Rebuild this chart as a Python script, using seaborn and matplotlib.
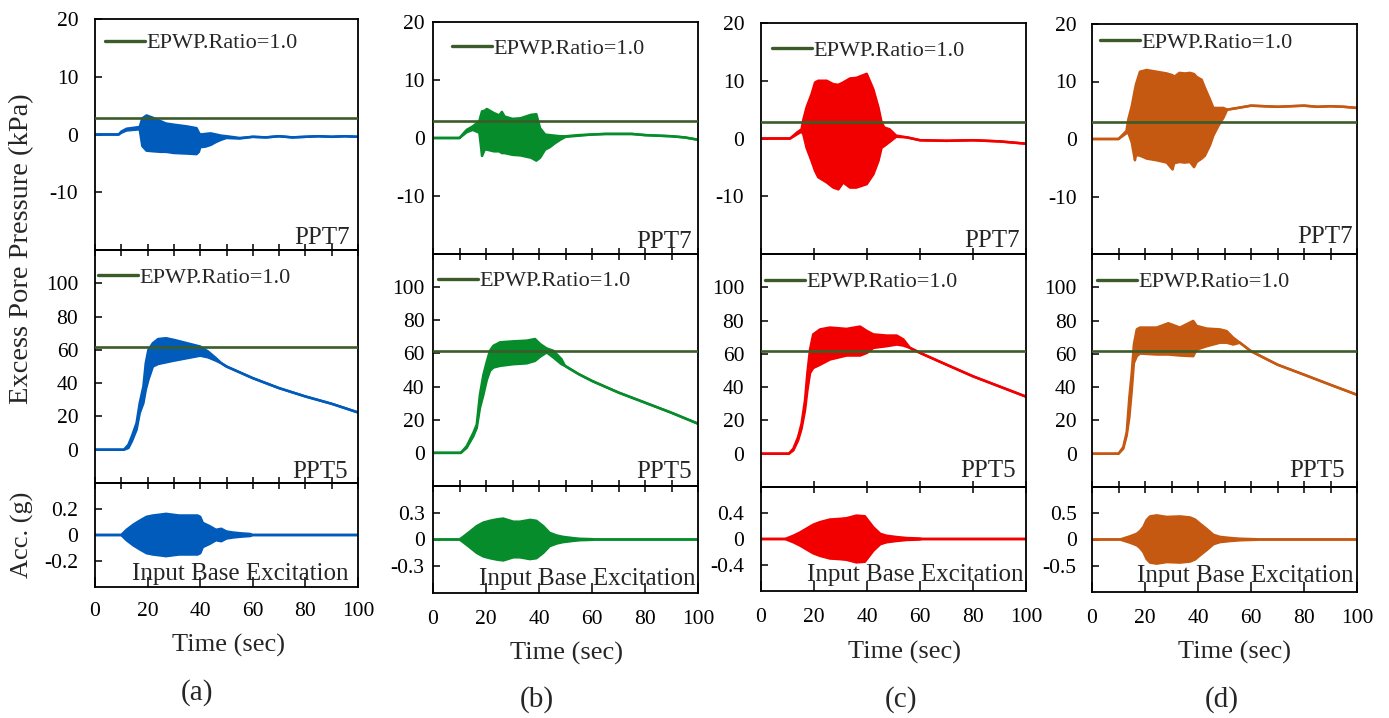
import numpy as np
import matplotlib
matplotlib.use("Agg")
import matplotlib.pyplot as plt
import seaborn as sns
from matplotlib.ticker import FuncFormatter

# ---------------- data ----------------
panel_letters = ["(a)", "(b)", "(c)", "(d)"]
series_colors = ["#005bbb", "#078c2c", "#f20000", "#c65911"]
epwp_color = "#3b5c29"
epwp_label = "EPWP.Ratio=1.0"
epwp_ppt7 = [2.9, 2.9, 2.9, 3.0]
epwp_ppt5 = [61.5, 61.5, 61.5, 61.5]
time_span = [0, 100]

# PPT7 envelopes (kPa)
a7_t = [0, 9, 10, 12, 17, 18, 19.6, 22, 25, 27, 30, 35, 38.6, 39.5, 40, 42, 44, 46, 48, 50, 55, 60, 65, 70, 75, 80, 85, 90, 95, 100]
a7_up = [0, 0, 0.5, 1.0, 1.3, 2.8, 3.3, 2.9, 2.3, 1.9, 1.7, 1.4, 1.1, 0.3, 0.0, 0.1, 0.2, 0.0, -0.2, -0.3, -0.6, -0.4, -0.5, -0.3, -0.5, -0.4, -0.3, -0.4, -0.3, -0.4]
a7_lo = [0, 0, 0.3, 0.7, 0.9, -2.0, -2.8, -2.9, -3.0, -3.0, -3.2, -3.3, -3.4, -3.0, -2.2, -2.1, -1.8, -1.3, -0.9, -0.6, -0.7, -0.4, -0.5, -0.3, -0.5, -0.4, -0.3, -0.4, -0.3, -0.4]

b7_t = [0, 10, 12.7, 15, 17.5, 18, 18.5, 19.5, 20.3, 23, 25, 26, 27, 30, 33, 35, 37, 39, 40.4, 42.3, 44, 46, 48, 50, 55, 60, 65, 70, 75, 80, 85, 90, 95, 100]
b7_up = [0, 0, 1.4, 2.0, 2.9, 3.8, 4.6, 4.7, 5.0, 4.3, 3.9, 4.5, 3.7, 3.3, 3.4, 3.7, 4.0, 4.1, 1.7, 0.6, 0.5, 0.4, 0.3, 0.3, 0.5, 0.6, 0.7, 0.7, 0.7, 0.5, 0.4, 0.3, 0.1, -0.3]
b7_lo = [0, 0, 1.0, 1.4, 0.9, -1.0, -3.1, -2.0, -2.0, -2.3, -2.3, -2.6, -2.6, -2.9, -3.0, -3.2, -3.4, -3.9, -3.4, -2.0, -1.6, -0.9, -0.3, 0.2, 0.4, 0.6, 0.7, 0.7, 0.7, 0.5, 0.4, 0.3, 0.1, -0.3]

c7_t = [0, 11, 13.5, 15.3, 16, 17.2, 19.1, 20.4, 21.6, 24.8, 27.3, 29.2, 31, 33.6, 36, 39.9, 42.4, 44.3, 45.5, 46.5, 48.5, 51, 55, 60, 70, 80, 90, 100]
c7_up = [0, 0, 1.0, 1.6, 3.3, 5.4, 7.7, 9.7, 10.0, 10.0, 9.4, 9.3, 9.7, 10.4, 10.5, 11.2, 8.5, 5.4, 2.8, 1.9, 1.6, 0.5, 0.2, -0.3, -0.4, -0.3, -0.5, -0.9]
c7_lo = [0, 0, 0.7, 1.2, 0.7, -1.6, -3.9, -5.6, -6.7, -7.6, -8.5, -8.8, -7.6, -8.5, -8.5, -7.9, -6.2, -3.9, -1.6, -1.3, -0.6, 0.3, 0.2, -0.3, -0.4, -0.3, -0.5, -0.9]

d7_t = [0, 10, 13, 13.7, 15, 16.2, 16.6, 18.1, 20.6, 24.4, 28.2, 30.4, 31, 33, 35, 37, 38.5, 39.5, 41.4, 42.6, 44.5, 45.8, 47.7, 49.6, 51, 55, 60, 65, 70, 75, 80, 85, 90, 95, 100]
d7_up = [0, 0, 1.4, 3.4, 5.7, 8.6, 9.5, 11.7, 12.0, 11.7, 11.4, 11.1, 10.8, 11.5, 11.4, 11.5, 11.3, 10.8, 10.3, 8.9, 6.9, 5.4, 5.4, 5.4, 5.1, 5.4, 5.8, 5.7, 5.6, 5.7, 5.8, 5.6, 5.7, 5.6, 5.4]
d7_lo = [0, 0, 1.0, 1.1, -0.6, -3.7, -2.8, -2.9, -3.4, -3.7, -4.1, -5.3, -4.2, -4.0, -4.1, -4.0, -4.9, -4.0, -3.4, -2.9, -1.1, 0.6, 2.3, 3.7, 5.1, 5.4, 5.8, 5.7, 5.6, 5.7, 5.8, 5.6, 5.7, 5.6, 5.4]

# PPT5 envelopes (kPa)
a5_t = [0, 11, 12.7, 14, 15.8, 17, 18.4, 19.3, 20.3, 22, 24, 27, 30, 35, 40, 43, 46, 48, 50, 55, 60, 70, 80, 90, 100]
a5_up = [0, 0, 3, 8, 16, 28, 38, 52, 60, 64, 66.5, 67, 66, 64, 62, 59, 55, 52, 50, 46.5, 43, 37, 32, 27.6, 22.4]
a5_lo = [0, 0, 1, 5, 12, 22, 28, 36, 42, 50, 51.5, 52.5, 53.5, 55, 56.5, 55.5, 53.5, 52, 50, 46.5, 43, 37, 32, 27.6, 22.4]

b5_t = [0, 10.5, 12.7, 15.2, 16.5, 17.7, 19, 20.3, 21.5, 22.8, 25.3, 30.3, 35.3, 38.5, 40.4, 42.9, 45.4, 48.5, 49.8, 55, 60, 70, 80, 90, 100]
b5_up = [0, 0, 4, 12, 17, 35, 47, 55, 61.6, 64.6, 66.7, 67.3, 67.7, 68.7, 65.7, 63, 61.6, 56.5, 52.5, 47.5, 43.4, 36.4, 30.3, 24.2, 17.6]
b5_lo = [0, 0, 3, 10, 15, 27, 35, 44, 49.5, 51.5, 52.5, 53.5, 54, 55.5, 58, 60.6, 57.6, 53.5, 52.5, 47.5, 43.4, 36.4, 30.3, 24.2, 17.6]

c5_t = [0, 10.5, 12.2, 14, 15.3, 16.6, 17.5, 18.5, 19.7, 22.3, 26, 32.3, 37.4, 40, 42.4, 47.4, 51.2, 53.7, 56.2, 60, 70, 80, 90, 100]
c5_up = [0, 0, 3, 10, 18, 32, 48.5, 62.6, 71.7, 74.7, 75.8, 75, 76.4, 73.7, 71.7, 71, 71, 68.7, 63.6, 60.6, 53.5, 46.5, 40.4, 34.3]
c5_lo = [0, 0, 2, 8, 15, 26, 38, 48.5, 51.5, 53.5, 56.6, 59, 59, 60.6, 63.6, 64.6, 65.6, 65, 63.6, 60.6, 53.5, 46.5, 40.4, 34.3]

d5_t = [0, 10, 11.8, 13.1, 14.1, 15, 15.8, 16.9, 18.1, 24.4, 28.8, 33.2, 38.2, 39.5, 43.3, 48.3, 50.8, 53.3, 55.8, 60, 70, 80, 90, 100]
d5_up = [0, 0, 4, 13, 34, 48.5, 65.6, 74.7, 75.8, 75.8, 78.4, 75.8, 79.8, 76.8, 75.2, 74.7, 73.7, 69.7, 66.7, 61.6, 53.5, 47.5, 41.4, 35.4]
d5_lo = [0, 0, 3, 11, 22, 38, 54.5, 58.6, 60.2, 59.6, 59.6, 59, 58.6, 62.6, 64.6, 66.7, 66.7, 65.6, 66.7, 61.6, 53.5, 47.5, 41.4, 35.4]

# Input base excitation amplitude envelopes (g)
a_acc_t = [0, 10, 12, 14.6, 17, 19.6, 22, 26, 27, 30, 32, 35, 39, 40, 41, 43.7, 46, 48, 50, 52.5, 56, 59, 60, 100]
a_acc_amp = [0, 0, 0.04, 0.08, 0.11, 0.14, 0.15, 0.16, 0.163, 0.155, 0.15, 0.15, 0.15, 0.14, 0.093, 0.067, 0.04, 0.048, 0.027, 0.019, 0.012, 0.008, 0, 0]
b_acc_t = [0, 10, 11.4, 14, 16.5, 19, 21.5, 24, 26.5, 30.3, 32.8, 36.6, 39, 41.6, 44, 46.7, 49, 53, 55.5, 60, 61, 100]
b_acc_amp = [0, 0, 0.03, 0.09, 0.15, 0.19, 0.21, 0.225, 0.235, 0.2, 0.2, 0.22, 0.21, 0.15, 0.075, 0.045, 0.03, 0.015, 0.008, 0.004, 0, 0]
c_acc_t = [0, 9, 9.7, 12.2, 14.7, 17.2, 19.7, 22.3, 26, 29.8, 32.3, 36, 39.2, 40.5, 42.4, 45, 47.4, 51.2, 55, 60, 61, 100]
c_acc_amp = [0, 0, 0.01, 0.05, 0.1, 0.16, 0.22, 0.26, 0.3, 0.31, 0.32, 0.36, 0.35, 0.28, 0.18, 0.08, 0.05, 0.03, 0.015, 0.008, 0, 0]
d_acc_t = [0, 10.5, 11.8, 14.3, 16.9, 18.1, 19.4, 20.6, 21.9, 24.4, 28.2, 33.2, 37, 38.9, 40.8, 43.3, 45.8, 48.3, 52, 55.8, 62, 63, 100]
d_acc_amp = [0, 0, 0.02, 0.06, 0.11, 0.16, 0.24, 0.37, 0.44, 0.46, 0.43, 0.44, 0.42, 0.38, 0.3, 0.2, 0.09, 0.05, 0.03, 0.015, 0.005, 0, 0]

ppt7_yticks = [-10, 0, 10, 20]
ppt5_yticks = [0, 20, 40, 60, 80, 100]
acc_yticks = [[-0.2, 0, 0.2], [-0.3, 0, 0.3], [-0.4, 0, 0.4], [-0.5, 0, 0.5]]
acc_ylims = [0.4, 0.6, 0.8, 1.0]
time_ticks = [0, 20, 40, 60, 80, 100]

ppt7_data = [(a7_t, a7_up, a7_lo), (b7_t, b7_up, b7_lo), (c7_t, c7_up, c7_lo), (d7_t, d7_up, d7_lo)]
ppt5_data = [(a5_t, a5_up, a5_lo), (b5_t, b5_up, b5_lo), (c5_t, c5_up, c5_lo), (d5_t, d5_up, d5_lo)]
acc_data = [(a_acc_t, a_acc_amp), (b_acc_t, b_acc_amp), (c_acc_t, c_acc_amp), (d_acc_t, d_acc_amp)]

# ---------------- layout (pixels) ----------------
W, H = 1389, 718
col_x = [(95, 358), (433, 698), (761, 1026), (1092, 1357)]
col_rows = [[(19, 250), (250, 483), (483, 587)],
            [(22, 254), (254, 486), (486, 593)],
            [(23, 254), (254, 487), (487, 591)],
            [(24, 254), (254, 487), (487, 592)]]
minor_step = [10, 10, 20, 10]
ypad = [12, 6, 12, 11]
xpad = [11, 12, 12, 12]
leg7 = [(0.038, 0.94), (0.072, 0.93), (0.042, 0.926), (0.03, 0.965)]
leg5 = [(0.011, 0.927), (0.019, 0.927), (0.015, 0.923), (0.02, 0.923)]
lab7 = [(0.968, 0.025), (0.977, 0.026), (0.978, 0.03), (0.986, 0.047)]
lab5 = [(0.962, 0.022), (0.975, 0.034), (0.96, 0.043), (0.956, 0.043)]
labacc = [(0.962, 0.067), (0.99, 0.075), (0.99, 0.1), (0.986, 0.095)]
time_lab_pos = [(229, 645), (566, 653), (905, 652), (1235, 652)]
letter_pos = [(197, 693), (537, 700), (901, 700), (1222, 700)]

sns.set_theme(style="ticks")
plt.rcParams["font.family"] = ["Liberation Serif", "DejaVu Serif"]
plt.rcParams["axes.unicode_minus"] = False

fig = plt.figure(figsize=(W / 100, H / 100), dpi=100)
fig.patch.set_facecolor("white")

fmt = FuncFormatter(lambda v, p: "%g" % v)
TICK_FS = 15.5


def make_ax(x0, x1, y0, y1):
    ax = fig.add_axes([x0 / W, 1 - y1 / H, (x1 - x0) / W, (y1 - y0) / H])
    ax.set_facecolor("none")
    for s in ax.spines.values():
        s.set_color("black")
        s.set_linewidth(1.3)
    return ax


def band(ax, t, up, lo, color):
    ax.fill_between(t, lo, up, color=color, lw=0, zorder=2)
    sns.lineplot(x=t, y=up, ax=ax, color=color, lw=1.8, zorder=2.1)
    sns.lineplot(x=t, y=lo, ax=ax, color=color, lw=1.8, zorder=2.1)


def epwp(ax, level, anchor):
    sns.lineplot(x=time_span, y=[level, level], ax=ax, color=epwp_color, lw=1.9,
                 label=epwp_label, zorder=3)
    ax.legend(loc="upper left", bbox_to_anchor=anchor, frameon=False, borderpad=0,
              borderaxespad=0, handlelength=1.8, handletextpad=0.05, fontsize=16)
    for ln in ax.get_legend().get_lines():
        ln.set_linewidth(2.4)


for i in range(4):
    x0, x1 = col_x[i]
    rows = col_rows[i]
    color = series_colors[i]

    # PPT7
    ax7 = make_ax(x0, x1, *rows[0])
    band(ax7, *ppt7_data[i], color)
    epwp(ax7, epwp_ppt7[i], leg7[i])
    ax7.set_ylim(-20, 20)
    ax7.set_yticks(ppt7_yticks)
    ax7.text(*lab7[i], "PPT7", transform=ax7.transAxes, ha="right", va="baseline", fontsize=18)

    # PPT5
    ax5 = make_ax(x0, x1, *rows[1])
    band(ax5, *ppt5_data[i], color)
    epwp(ax5, epwp_ppt5[i], leg5[i])
    ax5.set_ylim(-20, 120)
    ax5.set_yticks(ppt5_yticks)
    ax5.text(*lab5[i], "PPT5", transform=ax5.transAxes, ha="right", va="baseline", fontsize=18)

    for ax in (ax7, ax5):
        ax.set_xlim(0, 100)
        ax.set_xticks(np.arange(0, 101, minor_step[i]))
        ax.tick_params(axis="x", direction="inout", length=9, width=1.1, labelbottom=False, colors="black")

    # Acc
    axa = make_ax(x0, x1, *rows[2])
    t_acc, amp = acc_data[i]
    neg = [-v for v in amp]
    band(axa, t_acc, amp, neg, color)
    axa.set_xlim(0, 100)
    axa.set_ylim(-acc_ylims[i], acc_ylims[i])
    axa.set_yticks(acc_yticks[i])
    axa.set_xticks(time_ticks)
    axa.tick_params(axis="x", direction="in", length=7, width=1.1, pad=xpad[i],
                    labelsize=TICK_FS, colors="black")
    axa.text(*labacc[i], "Input Base Excitation", transform=axa.transAxes,
             ha="right", va="baseline", fontsize=18)

    for ax in (ax7, ax5, axa):
        ax.yaxis.set_major_formatter(fmt)
        ax.xaxis.set_major_formatter(fmt)
        ax.tick_params(axis="y", direction="in", length=5, width=1.1, pad=ypad[i],
                       labelsize=TICK_FS, colors="black")
        ax.set_xlabel("")
        ax.set_ylabel("")

    fig.text(time_lab_pos[i][0] / W, 1 - time_lab_pos[i][1] / H, "Time (sec)",
             ha="center", va="center", fontsize=19)
    fig.text(letter_pos[i][0] / W, 1 - letter_pos[i][1] / H, panel_letters[i],
             ha="center", va="center", fontsize=21)

fig.text(22 / W, 1 - 249 / H, "Excess Pore Pressure (kPa)", rotation=90,
         ha="center", va="center", fontsize=20.5)
fig.text(22 / W, 1 - 535 / H, "Acc. (g)", rotation=90, ha="center", va="center", fontsize=19)

fig.savefig("out.png", dpi=100, facecolor="white")
